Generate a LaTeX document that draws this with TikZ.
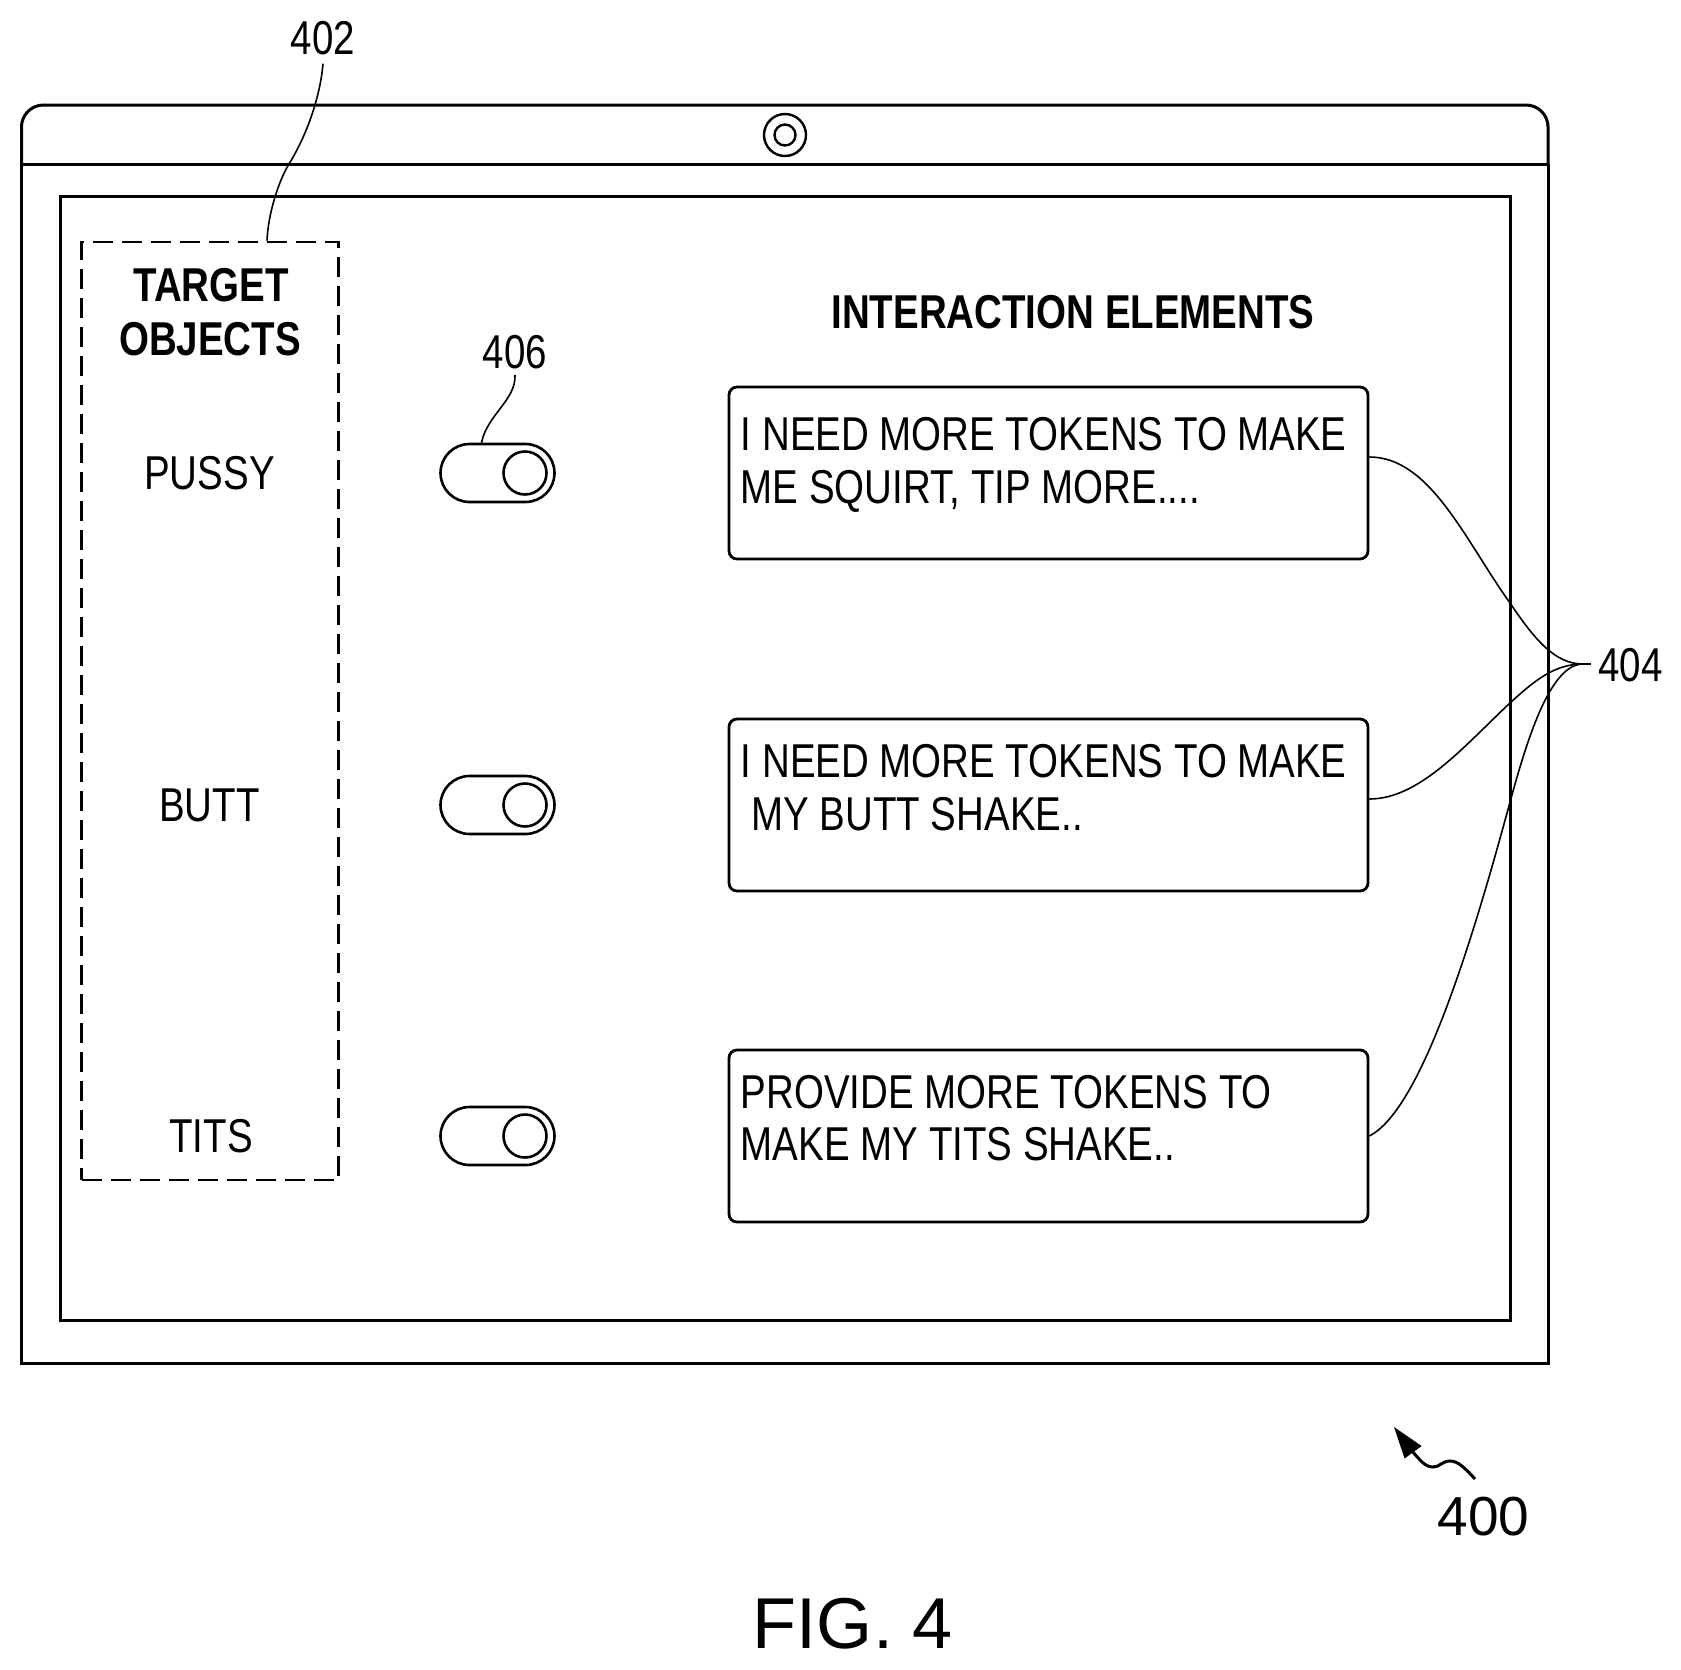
\documentclass[tikz,border=0pt]{standalone}
\usepackage{fontspec}
\setmainfont{Liberation Sans}
\newfontfamily\condfont[FakeStretch=0.81]{Liberation Sans}
\tikzset{
  frameline/.style={draw=black,line width=1.5pt},
  innerframe/.style={draw=black,line width=1.5pt},
  leader/.style={draw=black,line width=0.8pt},
  reflabel/.style={font=\condfont\fontsize{23.75}{23.75}\selectfont,inner sep=3pt},
  headtext/.style={font=\condfont\bfseries\fontsize{23.75}{23.75}\selectfont,inner sep=0pt},
  itemtext/.style={font=\condfont\fontsize{23.75}{23.75}\selectfont,inner sep=0pt},
  msgtext/.style={font=\condfont\fontsize{23.75}{23.75}\selectfont,inner sep=0pt,anchor=base west},
  msgbox/.style={draw=black,line width=1.4pt,rounded corners=4pt,minimum width=319.5pt,minimum height=86pt,inner sep=0pt},
  togglebox/.style={draw=black,line width=1.3pt,rounded corners=14.5pt,minimum width=57pt,minimum height=29pt,inner sep=0pt},
  knob/.style={draw=black,line width=1.3pt,circle,minimum size=21.5pt,inner sep=0pt},
  dashbox/.style={draw=black,line width=1.3pt,dash pattern=on 10pt off 4.5pt,minimum width=128.5pt,minimum height=469pt,inner sep=0pt},
}
\begin{document}
\begin{tikzpicture}[x=0.5pt,y=-0.5pt]
\useasboundingbox (0,0) rectangle (1681,1670);
% device outline
\draw[frameline] (21.5,164) -- (21.5,1363.5) -- (1548,1363.5) -- (1548,164);
\draw[frameline,rounded corners=11pt] (21.5,164) -- (21.5,105) -- (1548,105) -- (1548,164);
\draw[frameline] (21.5,164) -- (1548,164);
\draw[innerframe] (60,196) rectangle (1510,1320);
% camera
\node[draw=black,line width=1.2pt,circle,minimum size=21pt,inner sep=0pt] (camout) at (785,135) {};
\node[draw=black,line width=1.2pt,circle,minimum size=10.5pt,inner sep=0pt] (camin) at (785,135) {};
% target objects
\node[dashbox] (targets) at (210,711) {};
\node[headtext] (t1) at (211,285) {TARGET};
\node[headtext] (t2) at (210,339) {OBJECTS};
\node[itemtext] (o1) at (209.5,473.5) {PUSSY};
\node[itemtext] (o2) at (209.5,805) {BUTT};
\node[itemtext] (o3) at (211,1136) {TITS};
% toggles
\node[togglebox] (tg1) at (497.5,473) {};
\node[togglebox] (tg2) at (497.5,805) {};
\node[togglebox] (tg3) at (497.5,1136) {};
\node[knob] (kn1) at (525,473) {};
\node[knob] (kn2) at (525,805) {};
\node[knob] (kn3) at (525,1136) {};
% interaction elements
\node[headtext] (ie) at (1073,312) {INTERACTION ELEMENTS};
\node[msgbox] (b1) at (1048.5,473) {};
\node[msgbox] (b2) at (1048.5,805) {};
\node[msgbox] (b3) at (1048.5,1136) {};
\node[msgtext] (m11) at (740.5,450) {I NEED MORE TOKENS TO MAKE};
\node[msgtext] (m12) at (740.5,503) {ME SQUIRT, TIP MORE....};
\node[msgtext] (m21) at (740.5,777) {I NEED MORE TOKENS TO MAKE};
\node[msgtext] (m22) at (751,830) {MY BUTT SHAKE..};
\node[msgtext] (m31) at (740.5,1108) {PROVIDE MORE TOKENS TO};
\node[msgtext] (m32) at (740.5,1160) {MAKE MY TITS SHAKE..};
% reference labels
\node[reflabel,inner sep=4pt] (r402) at (323,38.5) {402};
\node[reflabel] (r406) at (515,352) {406};
\node[reflabel,inner sep=0pt,anchor=west] (r404) at (1598,665) {404};
\node[inner sep=0pt,font=\fontsize{27.5}{27.5}\selectfont] (r400) at (1483.5,1517) {400};
\node[inner sep=0pt,font=\fontsize{36}{36}\selectfont] (fig) at (853,1624) {FIG. 4};
% leaders
\draw[leader] (r402.south) .. controls (321,90) and (310,130) .. (289,164) .. controls (278,182) and (268,215) .. ([xshift=28.5pt]targets.north);
\draw[leader] (r406.south) .. controls (516,400) and (487,415) .. ([xshift=-8pt]tg1.north);
\coordinate (hub) at (1583,664);
\coordinate (tail) at (1591,664);
\draw[leader] ([yshift=8pt]b1.east) .. controls (1430,457) and (1465,540) .. (1510,603) .. controls (1535,640) and (1555,664) .. (hub);
\draw[leader] ([yshift=3pt]b2.east) .. controls (1420,799) and (1465,745) .. (1510,703) .. controls (1535,680) and (1555,664) .. (hub);
\draw[leader] (b3.east) .. controls (1420,1110) and (1470,950) .. (1510,802) .. controls (1527,740) and (1550,664) .. (hub);
\draw[leader] (hub) -- (tail);
% figure arrow
\coordinate (w0) at (1475,1479);
\coordinate (tip) at (1394,1427);
\draw[line width=1.5pt] (w0) .. controls (1465,1468) and (1458,1461) .. (1450,1461) .. controls (1442,1461) and (1440,1467) .. (1433,1467) .. controls (1425,1467) and (1420,1460) .. (1412,1451);
\fill[black] (tip) -- (1421.6,1446) -- (1404.6,1458.5) -- cycle;
\end{tikzpicture}
\end{document}
